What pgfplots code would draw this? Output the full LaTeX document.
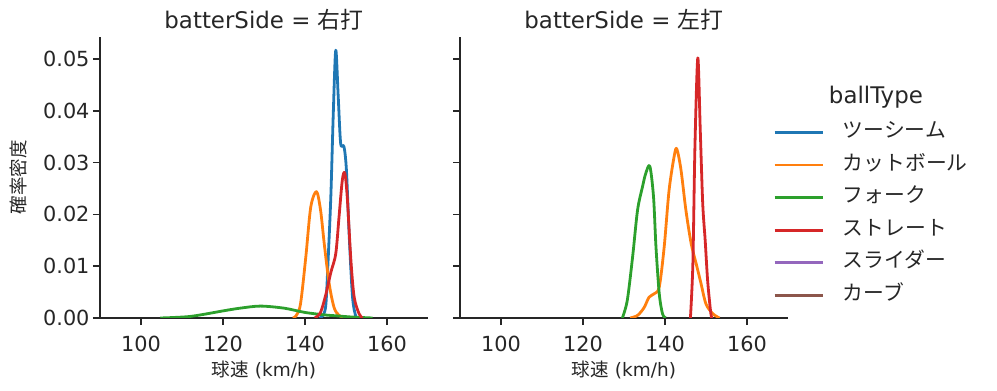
\documentclass[border=0pt]{standalone}
\usepackage{fontspec}
\setmainfont{DejaVu Sans}
\newfontfamily\cjk{Noto Sans CJK JP}
\usepackage{pgfplots}
\pgfplotsset{compat=1.18}
\definecolor{c0}{HTML}{1F77B4}
\definecolor{c1}{HTML}{FF7F0E}
\definecolor{c2}{HTML}{2CA02C}
\definecolor{c3}{HTML}{D62728}
\definecolor{c4}{HTML}{9467BD}
\definecolor{c5}{HTML}{8C564B}
\definecolor{ink}{RGB}{38,38,38}
\pgfplotsset{
  kde/.style={
    scale only axis, width=328bp, height=281bp,
    xmin=90, xmax=170, ymin=0, ymax=0.05425,
    axis lines=left, axis line style={-, line width=1.6bp, ink},
    tick align=outside, major tick length=7bp,
    tick style={line width=1.6bp, ink},
    xtick={100,120,140,160},
    ytick={0,0.01,0.02,0.03,0.04,0.05},
    ticklabel style={font=\fontsize{20.8bp}{24bp}\selectfont, text=ink},
    xticklabel style={yshift=-8bp},
    /pgf/number format/assume math mode=true,
    yticklabel style={/pgf/number format/.cd, fixed, fixed zerofill, precision=2},
    scaled y ticks=false,
    title style={font=\fontsize{22.9bp}{26bp}\selectfont, text=ink, at={(axis description cs:0.5,1.04)}, anchor=center},
    xlabel style={font=\fontsize{18.5bp}{22bp}\selectfont, text=ink, at={(axis description cs:0.5,-0.185)}, anchor=center},
    ylabel style={font=\fontsize{18.5bp}{22bp}\selectfont, text=ink},
    xlabel={{\cjk 球速} (km/h)},
    clip mode=individual,
  },
  kp/.style={line width=2.8bp, smooth, no marks, line join=round, #1},
}
\begin{document}
\begin{tikzpicture}
\useasboundingbox (0,0) rectangle (997bp,391bp);
\begin{axis}[kde, at={(100bp,73bp)}, anchor=south west,
  title={batterSide = {\cjk 右打}},
  ylabel={\cjk 確率密度},
  ylabel style={at={(axis description cs:-0.25,0.5)}, anchor=center}]
\addplot[kp=c0] coordinates {(143.6,0) (144.5,0.0006) (145.1,0.0027) (145.6,0.0105) (146.3,0.0234) (146.9,0.0395) (147.5,0.0517) (148.1,0.0428) (148.7,0.0337) (149.5,0.0331) (150.1,0.0286) (150.8,0.0156) (151.6,0.004) (152.4,0.0003) (153.0,0)};
\addplot[kp=c1] coordinates {(137.0,0) (137.8,0.0004) (138.9,0.0027) (140.2,0.0118) (141.4,0.0214) (142.8,0.0244) (143.8,0.0208) (144.7,0.0143) (145.9,0.0066) (147.1,0.002) (148.3,0.0005) (149.6,0)};
\addplot[kp=c2] coordinates {(104.7,0) (108,0.0001) (112,0.0003) (116,0.0008) (120.2,0.0014) (124.2,0.0019) (129.1,0.0023) (134.9,0.0019) (139.8,0.0011) (144.7,0.0006) (148,0.0004) (151.2,0.0002) (156.5,0)};
\addplot[kp=c3] coordinates {(142.4,0) (143.8,0.0011) (145.1,0.0046) (146.3,0.0088) (147.5,0.0124) (148.3,0.0195) (149.1,0.0266) (149.7,0.028) (150.3,0.0234) (151.2,0.0111) (152.0,0.004) (153.2,0.0008) (154.0,0)};
\end{axis}
\begin{axis}[kde, at={(460bp,73bp)}, anchor=south west,
  title={batterSide = {\cjk 左打}},
  yticklabels={},
  legend cell align=left,
  legend style={at={(axis description cs:0.945,0.70)}, anchor=north west, draw=none, fill=none,
    font=\fontsize{20.8bp}{24bp}\selectfont, text=ink, row sep=14.6bp, column sep=19bp,
    nodes={inner sep=0pt, text height=14bp, text depth=4bp}},
  legend image code/.code={\draw[#1, line width=2.8bp] (0bp,0bp) -- (48bp,0bp);}]
\addlegendimage{c0}
\addlegendentry{\cjk ツーシーム}
\addplot[kp=c1] coordinates {(131.5,0) (133.3,0.0005) (134.9,0.002) (136.1,0.004) (137.4,0.0047) (138.6,0.006) (139.8,0.0137) (141.0,0.0247) (142.3,0.0315) (142.9,0.0326) (143.9,0.0286) (145.1,0.0208) (146.4,0.0143) (147.6,0.0105) (148.8,0.0066) (150.0,0.0027) (151.7,0.0008) (153.3,0)};
\addlegendentry{\cjk カットボール}
\addplot[kp=c2] coordinates {(129.6,0) (130.8,0.0034) (132.1,0.0118) (133.3,0.0208) (134.5,0.0253) (135.3,0.0279) (136.3,0.0293) (137.2,0.0234) (137.8,0.0137) (138.6,0.0047) (139.4,0.0008) (140.2,0)};
\addlegendentry{\cjk フォーク}
\addplot[kp=c3] coordinates {(146.2,0) (146.8,0.0105) (147.3,0.033) (148.0,0.0502) (148.6,0.0363) (149.2,0.0221) (149.8,0.015) (150.4,0.0072) (151.1,0.0014) (151.4,0)};
\addlegendentry{\cjk ストレート}
\addlegendimage{c4}
\addlegendentry{\cjk スライダー}
\addlegendimage{c5}
\addlegendentry{\cjk カーブ}
\node[font=\fontsize{22.9bp}{26bp}\selectfont, text=ink] at (axis description cs:1.268,0.786) {ballType};
\end{axis}
\end{tikzpicture}
\end{document}
